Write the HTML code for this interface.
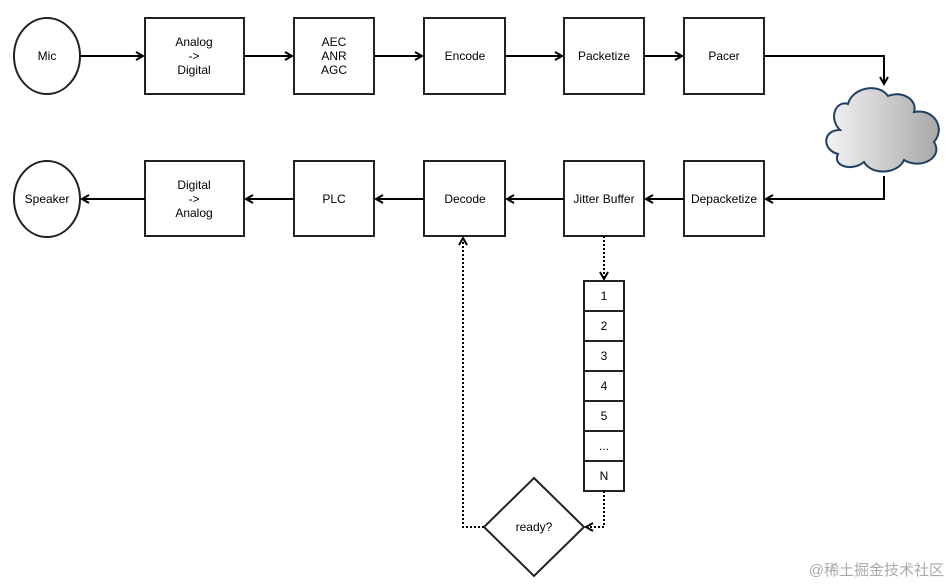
<!DOCTYPE html>
<html><head><meta charset="utf-8"><style>
body{margin:0;background:#fff;width:950px;height:583px;overflow:hidden}
text{font-family:"Liberation Sans",Arial,sans-serif;font-size:12px;fill:#000}
</style></head><body>
<svg width="950" height="583" viewBox="0 0 950 583" xmlns="http://www.w3.org/2000/svg">
<defs>
<marker id="a" markerWidth="10" markerHeight="10" refX="8" refY="5" orient="auto" markerUnits="userSpaceOnUse"><path d="M1,1 L8,5 L1,9" fill="none" stroke="#000" stroke-width="2"/></marker>
<linearGradient id="g" x1="0" x2="1"><stop offset="0" stop-color="#f4f4f4"/><stop offset="1" stop-color="#a8a8a8"/></linearGradient>
</defs>
<g stroke="#222" stroke-width="2" fill="#fff">
<ellipse cx="47" cy="56" rx="33" ry="38"/>
<rect x="145" y="18" width="99" height="76"/>
<rect x="294" y="18" width="80" height="76"/>
<rect x="424" y="18" width="81" height="76"/>
<rect x="564" y="18" width="80" height="76"/>
<rect x="684" y="18" width="80" height="76"/>
<ellipse cx="47" cy="199" rx="33" ry="38"/>
<rect x="145" y="161" width="99" height="75"/>
<rect x="294" y="161" width="80" height="75"/>
<rect x="424" y="161" width="81" height="75"/>
<rect x="564" y="161" width="80" height="75"/>
<rect x="684" y="161" width="80" height="75"/>
<rect x="584" y="281" width="40" height="30"/>
<rect x="584" y="311" width="40" height="30"/>
<rect x="584" y="341" width="40" height="30"/>
<rect x="584" y="371" width="40" height="30"/>
<rect x="584" y="401" width="40" height="30"/>
<rect x="584" y="431" width="40" height="30"/>
<rect x="584" y="461" width="40" height="30"/>
<polygon points="534,478 584,527 534,576 484,527"/>
</g>
<path d="M848,104 C852,88 878,82 888,96 C902,90 918,100 914,112 C934,108 946,128 934,142 C944,158 920,170 904,160 C898,174 872,176 864,162 C852,172 832,166 838,154 C822,150 822,130 840,130 C828,118 836,100 848,104 Z" fill="url(#g)" stroke="#1f3f63" stroke-width="2"/>
<g stroke="#000" stroke-width="2" fill="none" marker-end="url(#a)">
<line x1="80" y1="56" x2="143" y2="56"/>
<line x1="244" y1="56" x2="292" y2="56"/>
<line x1="374" y1="56" x2="422" y2="56"/>
<line x1="505" y1="56" x2="562" y2="56"/>
<line x1="644" y1="56" x2="682" y2="56"/>
<polyline points="764,56 884,56 884,84"/>
<polyline points="884,176 884,199 766,199"/>
<line x1="684" y1="199" x2="646" y2="199"/>
<line x1="564" y1="199" x2="507" y2="199"/>
<line x1="424" y1="199" x2="376" y2="199"/>
<line x1="294" y1="199" x2="246" y2="199"/>
<line x1="145" y1="199" x2="82" y2="199"/>
</g>
<g stroke="#000" stroke-width="2" fill="none" stroke-dasharray="2,2" marker-end="url(#a)">
<line x1="604" y1="236" x2="604" y2="279"/>
<polyline points="604,491 604,527 586,527"/>
<polyline points="484,527 463,527 463,238"/>
</g>
<g text-anchor="middle">
<text x="47" y="60">Mic</text>
<text x="194" y="46">Analog</text><text x="194" y="60">-&gt;</text><text x="194" y="74">Digital</text>
<text x="334" y="46">AEC</text><text x="334" y="60">ANR</text><text x="334" y="74">AGC</text>
<text x="465" y="60">Encode</text>
<text x="604" y="60">Packetize</text>
<text x="724" y="60">Pacer</text>
<text x="47" y="203">Speaker</text>
<text x="194" y="189">Digital</text><text x="194" y="203">-&gt;</text><text x="194" y="217">Analog</text>
<text x="334" y="203">PLC</text>
<text x="465" y="203">Decode</text>
<text x="604" y="203">Jitter Buffer</text>
<text x="724" y="203">Depacketize</text>
<text x="604" y="300">1</text><text x="604" y="330">2</text><text x="604" y="360">3</text>
<text x="604" y="390">4</text><text x="604" y="420">5</text><text x="604" y="450">...</text>
<text x="604" y="480">N</text>
<text x="534" y="531">ready?</text>
</g>
<text x="944" y="575" text-anchor="end" style="font-family:'Liberation Sans','Noto Sans CJK SC',sans-serif;font-size:15px;fill:#aaa">@稀土掘金技术社区</text>
</svg>
</body></html>
